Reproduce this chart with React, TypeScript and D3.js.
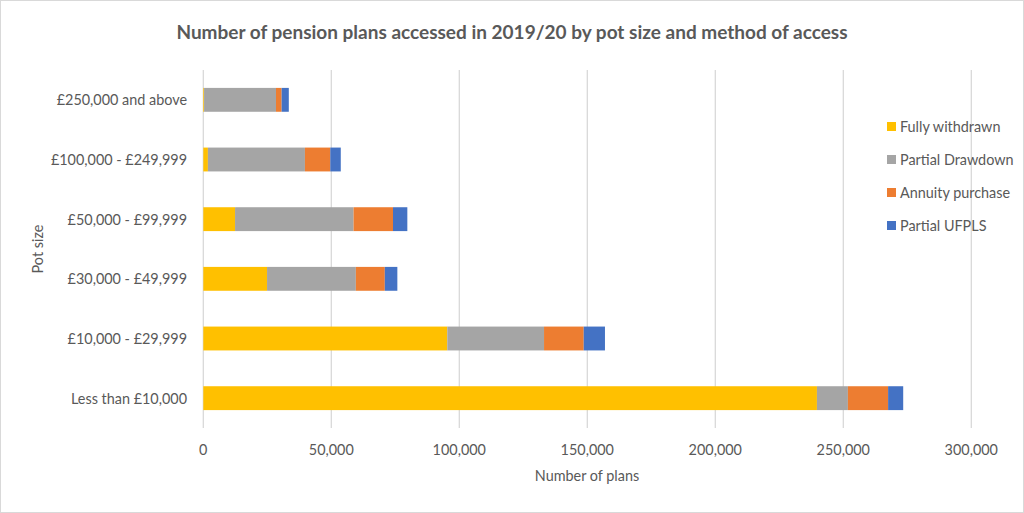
import React, { useEffect, useRef } from "react";
import * as d3 from "d3";

const categories = [
  "£250,000 and above",
  "£100,000 - £249,999",
  "£50,000 - £99,999",
  "£30,000 - £49,999",
  "£10,000 - £29,999",
  "Less than £10,000",
];
const seriesNames = ["Fully withdrawn", "Partial Drawdown", "Annuity purchase", "Partial UFPLS"];
const fullyWithdrawn = [300, 1800, 12400, 24900, 95300, 239700];
const partialDrawdown = [28100, 37900, 46300, 34700, 37800, 12100];
const annuityPurchase = [2200, 9900, 15400, 11300, 15500, 15700];
const partialUFPLS = [2800, 4100, 5600, 4900, 8300, 5900];
const xTicks = [0, 50000, 100000, 150000, 200000, 250000, 300000];
const colors = ["#FFC000", "#A5A5A5", "#ED7D31", "#4472C4"];

const W = 1024;
const H = 513;
const FONT = "Lato, 'Open Sans', sans-serif";
const TEXT = "#595959";
const FS = 14.4;

export default function App() {
  const ref = useRef<SVGSVGElement>(null);

  useEffect(() => {
    document.body.style.margin = "0";
    const svg = d3.select(ref.current);
    svg.selectAll("*").remove();

    const rows = categories.map((c, i) => ({
      cat: c,
      "Fully withdrawn": fullyWithdrawn[i],
      "Partial Drawdown": partialDrawdown[i],
      "Annuity purchase": annuityPurchase[i],
      "Partial UFPLS": partialUFPLS[i],
    }));
    const stack = d3.stack<any>().keys(seriesNames)(rows);

    const x = d3.scaleLinear().domain([0, 300000]).range([203.3, 971.3]);
    const y = d3.scaleBand().domain(categories).range([70, 428]).paddingInner(0.6).paddingOuter(0.3);

    svg.append("rect").attr("x", 0.5).attr("y", 0.5).attr("width", W - 1).attr("height", H - 1)
      .attr("fill", "#fff").attr("stroke", "#d9d9d9");

    // gridlines
    svg.append("g").selectAll("line").data(xTicks).join("line")
      .attr("x1", (d) => x(d)).attr("x2", (d) => x(d))
      .attr("y1", 70).attr("y2", 428)
      .attr("stroke", "#d9d9d9").attr("stroke-width", 1.3);

    // bars
    svg.append("g").selectAll("g").data(stack).join("g")
      .attr("fill", (_d, i) => colors[i])
      .selectAll("rect").data((d) => d).join("rect")
      .attr("x", (d) => x(d[0]))
      .attr("width", (d) => Math.max(0, x(d[1]) - x(d[0])))
      .attr("y", (d: any) => y(d.data.cat)!)
      .attr("height", y.bandwidth());

    // x tick labels
    svg.append("g").selectAll("text").data(xTicks).join("text")
      .attr("x", (d) => x(d)).attr("y", 449)
      .attr("text-anchor", "middle").attr("dominant-baseline", "central")
      .attr("font-family", FONT).attr("font-size", FS).attr("fill", TEXT)
      .text((d) => d3.format(",")(d));

    // y tick labels
    svg.append("g").selectAll("text").data(categories).join("text")
      .attr("x", 187).attr("y", (d) => y(d)! + y.bandwidth() / 2)
      .attr("text-anchor", "end").attr("dominant-baseline", "central")
      .attr("font-family", FONT).attr("font-size", FS).attr("fill", TEXT)
      .text((d) => d);

    // title
    svg.append("text").attr("x", 512).attr("y", 31)
      .attr("text-anchor", "middle").attr("dominant-baseline", "central")
      .attr("font-family", FONT).attr("font-size", 19).attr("font-weight", "bold").attr("fill", TEXT)
      .text("Number of pension plans accessed in 2019/20 by pot size and method of access");

    // axis titles
    svg.append("text").attr("x", 587).attr("y", 475)
      .attr("text-anchor", "middle").attr("dominant-baseline", "central")
      .attr("font-family", FONT).attr("font-size", FS).attr("fill", TEXT)
      .text("Number of plans");
    svg.append("text")
      .attr("transform", "translate(37,249) rotate(-90)")
      .attr("text-anchor", "middle").attr("dominant-baseline", "central")
      .attr("font-family", FONT).attr("font-size", FS).attr("fill", TEXT)
      .text("Pot size");

    // legend
    const lg = svg.append("g").selectAll("g").data(seriesNames).join("g")
      .attr("transform", (_d, i) => `translate(887,${126.5 + i * 33})`);
    lg.append("rect").attr("x", 0).attr("y", -4.5).attr("width", 9).attr("height", 9)
      .attr("fill", (_d, i) => colors[i]);
    lg.append("text").attr("x", 13).attr("y", 0).attr("dominant-baseline", "central")
      .attr("font-family", FONT).attr("font-size", FS).attr("fill", TEXT)
      .text((d) => d);
  }, []);

  return (
    <svg ref={ref} width={W} height={H} style={{ display: "block", position: "absolute", left: 0, top: 0 }} />
  );
}
